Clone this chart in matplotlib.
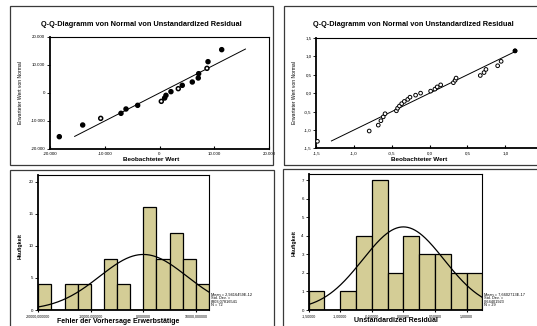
import numpy as np
import matplotlib
matplotlib.use("Agg")
import matplotlib.pyplot as plt
from matplotlib.patches import Rectangle

plt.rcParams['font.family'] = ['Liberation Sans', 'DejaVu Sans']

# ---- data ----
# Q-Q left: observed residual vs expected normal (each value occurs 4 times, N = 72)
qq1_obs = [-18300, -14030, -10740, -7035, -6120, -3990, 330, 940, 1180, 2090,
           3430, 4160, 5990, 7080, 7150, 8670, 8860, 11360]
qq1_exp = [-15600, -11430, -9050, -7260, -5710, -4400, -2980, -1790, -830, 480,
           1550, 2740, 3930, 5360, 6900, 8810, 11190, 15480]
qq1_filled = [1, 1, 0, 1, 1, 1, 0, 1, 1, 1, 0, 1, 1, 1, 1, 0, 1, 1]
qq1_line = [-15500, 15700]
qq1_ticks = [-20000, -10000, 0, 10000, 20000]
qq1_labels = ["-20.000", "-10.000", "0", "10.000", "20.000"]

# Q-Q right (N = 29)
qq2_obs = [-1.485, -0.80, -0.68, -0.645, -0.614, -0.59, -0.44, -0.424, -0.40, -0.37,
           -0.335, -0.29, -0.26, -0.186, -0.12, 0.013, 0.07, 0.10, 0.146, 0.314,
           0.337, 0.35, 0.67, 0.72, 0.745, 0.90, 0.946, 1.13, 1.13]
qq2_exp = [-1.31, -1.03, -0.87, -0.75, -0.645, -0.56, -0.48, -0.41, -0.35, -0.285,
           -0.225, -0.17, -0.11, -0.055, 0.0, 0.055, 0.11, 0.17, 0.225, 0.285,
           0.35, 0.41, 0.48, 0.56, 0.645, 0.745, 0.865, 1.15, 1.15]
qq2_line = [-1.30, 1.15]
qq2_ticks = [-1.5, -1.0, -0.5, 0.0, 0.5, 1.0, 1.5]
qq2_labels = ["-1,5", "-1,0", "-0,5", "0,0", "0,5", "1,0", "1,5"]

# histogram left
h1_edges = [-20000, -17500, -15000, -12500, -10000, -7500, -5000, -2500, 0, 2500,
            5000, 7500, 10000, 12500]
h1_counts = [4, 0, 4, 4, 0, 8, 4, 0, 16, 8, 12, 8, 4]
h1_mean, h1_sd, h1_n = 0.0, 8303.07816541, 72
h1_xticks = [-20000, -10000, 0, 10000]
h1_xlabels = ["-20000,000000", "-10000,000000", "0,000000", "10000,000000"]
h1_yticks = [0, 5, 10, 15, 20]
h1_stats = ["Mean = 2,9416459E-12", "Std. Dev. =", "8303,07816541", "N = 72"]

# histogram right
h2_edges = [-1.5, -1.25, -1.0, -0.75, -0.5, -0.25, 0.0, 0.25, 0.5, 0.75, 1.0, 1.25]
h2_counts = [1, 0, 1, 4, 7, 2, 4, 3, 3, 2, 2]
h2_mean, h2_sd, h2_n = 0.0, 0.64401923, 29
h2_xticks = [-1.5, -1.0, -0.5, 0.0, 0.5, 1.0]
h2_xlabels = ["-1,50000", "-1,00000", "-0,50000", "0,00000", "0,50000", "1,00000"]
h2_yticks = [0, 1, 2, 3, 4, 5, 6, 7]
h2_stats = ["Mean = 7,6602713E-17", "Std. Dev. =", "0,64401923", "N = 29"]

title = "Q-Q-Diagramm von Normal von Unstandardized Residual"

W, H = 537, 326
fig = plt.figure(figsize=(W / 100, H / 100), dpi=100)


def rect(x0, y0, x1, y1):
    return [x0 / W, 1 - y1 / H, (x1 - x0) / W, (y1 - y0) / H]


def ftext(x, y, s, **kw):
    fig.text(x / W, 1 - y / H, s, **kw)


def frame(x0, y0, x1, y1):
    fig.patches.append(Rectangle((x0 / W, 1 - y1 / H), (x1 - x0) / W, (y1 - y0) / H,
                                 transform=fig.transFigure, fill=False,
                                 lw=0.9, edgecolor="#3a3a3a"))


def style(ax):
    for s in ["left", "bottom"]:
        ax.spines[s].set_linewidth(1.3)
    for s in ["top", "right"]:
        ax.spines[s].set_linewidth(0.8)
    ax.tick_params(axis="y", direction="out", length=2.5, width=0.6, labelsize=3.2, pad=1)
    ax.tick_params(axis="x", direction="in", length=2, width=0.8, labelsize=3.2, pad=2)


frame(10, 6, 273, 165)
frame(284, 6, 560, 165)
frame(10, 170, 274, 340)
frame(283, 169, 560, 340)

# ---- Q-Q left ----
ax1 = fig.add_axes(rect(50, 37, 269, 149))
ax1.plot(qq1_line, qq1_line, color="black", lw=0.7)
fc = ["black" if f else "white" for f in qq1_filled]
ax1.scatter(qq1_obs, qq1_exp, s=8, facecolors=fc, edgecolors="black", linewidths=1.1, zorder=3)
ax1.set_xlim(-20000, 20000)
ax1.set_ylim(-20000, 20000)
ax1.set_xticks(qq1_ticks, qq1_labels)
ax1.set_yticks(qq1_ticks, qq1_labels)
style(ax1)
ftext(141.5, 24, title, ha="center", va="center", fontsize=5.3, fontweight="bold")
ftext(151, 159.5, "Beobachteter Wert", ha="center", va="center", fontsize=4.6, fontweight="bold")
ftext(21, 93, "Erwarteter Wert von Normal", ha="center", va="center", rotation=90, fontsize=3.6)

# ---- Q-Q right ----
ax2 = fig.add_axes(rect(316.3, 38, 543, 148.3))
ax2.plot(qq2_line, qq2_line, color="black", lw=0.7)
fc2 = ["white"] * (len(qq2_obs) - 2) + ["black", "black"]
ax2.scatter(qq2_obs, qq2_exp, s=7, facecolors=fc2, edgecolors="black", linewidths=0.7, zorder=3)
ax2.set_xlim(-1.5, 1.5)
ax2.set_ylim(-1.5, 1.5)
ax2.set_xticks(qq2_ticks[:-1], qq2_labels[:-1])
ax2.set_yticks(qq2_ticks, qq2_labels)
style(ax2)
ftext(413.5, 24, title, ha="center", va="center", fontsize=5.3, fontweight="bold")
ftext(419, 159.5, "Beobachteter Wert", ha="center", va="center", fontsize=4.6, fontweight="bold")
ftext(294, 93, "Erwarteter Wert von Normal", ha="center", va="center", rotation=90, fontsize=3.6)

bar_col = "#d4cd96"

# ---- histogram left ----
ax3 = fig.add_axes(rect(38.3, 174.5, 209, 310))
e1 = np.array(h1_edges)
ax3.bar(e1[:-1], h1_counts, width=np.diff(e1), align="edge", color=bar_col,
        edgecolor="black", linewidth=0.9)
xs = np.linspace(e1[0], e1[-1], 300)
bw1 = e1[1] - e1[0]
ax3.plot(xs, h1_n * bw1 * np.exp(-0.5 * ((xs - h1_mean) / h1_sd) ** 2) / (h1_sd * np.sqrt(2 * np.pi)),
         color="black", lw=0.9)
ax3.set_xlim(e1[0], e1[-1])
ax3.set_ylim(0, 21.1)
ax3.set_xticks(h1_xticks, h1_xlabels)
ax3.set_yticks(h1_yticks, [str(v) for v in h1_yticks])
style(ax3)
ax3.tick_params(axis="x", direction="out", length=1.5, labelsize=2.6, pad=1.5)
ftext(118.5, 321.3, "Fehler der Vorhersage Erwerbstätige", ha="center", va="center",
      fontsize=5.0, fontweight="bold")
ftext(20, 246, "Häufigkeit", ha="center", va="center", rotation=90, fontsize=3.8, fontweight="bold")
for i, s in enumerate(h1_stats):
    ftext(211, 294.5 + i * 3.6, s, ha="left", va="center", fontsize=2.8)

# ---- histogram right ----
ax4 = fig.add_axes(rect(308.7, 174, 482.3, 310))
e2 = np.array(h2_edges)
ax4.bar(e2[:-1], h2_counts, width=np.diff(e2), align="edge", color=bar_col,
        edgecolor="black", linewidth=0.9)
xs2 = np.linspace(e2[0], e2[-1], 300)
bw2 = e2[1] - e2[0]
ax4.plot(xs2, h2_n * bw2 * np.exp(-0.5 * ((xs2 - h2_mean) / h2_sd) ** 2) / (h2_sd * np.sqrt(2 * np.pi)),
         color="black", lw=0.9)
ax4.set_xlim(e2[0], e2[-1])
ax4.set_ylim(0, 7.35)
ax4.set_xticks(h2_xticks, h2_xlabels)
ax4.set_yticks(h2_yticks, [str(v) for v in h2_yticks])
style(ax4)
ax4.tick_params(axis="x", direction="out", length=1.5, labelsize=2.6, pad=1.5)
ftext(395.5, 320.8, "Unstandardized Residual", ha="center", va="center",
      fontsize=5.0, fontweight="bold")
ftext(294.5, 243, "Häufigkeit", ha="center", va="center", rotation=90, fontsize=3.8, fontweight="bold")
for i, s in enumerate(h2_stats):
    ftext(483.5, 294.5 + i * 3.6, s, ha="left", va="center", fontsize=2.8)

fig.savefig("out.png", dpi=100)
